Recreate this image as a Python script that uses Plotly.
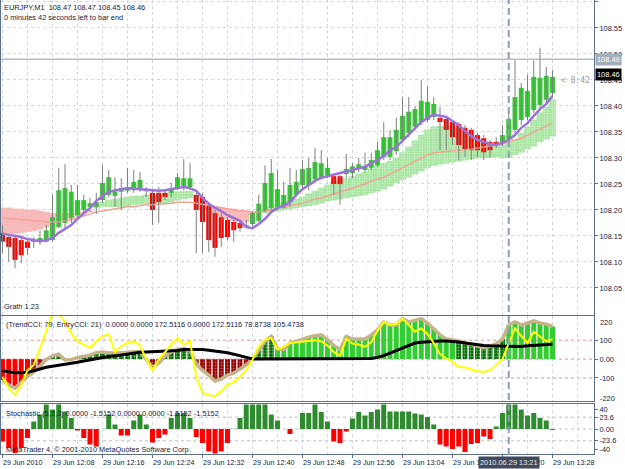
import plotly.graph_objects as go

# ---------------- data ----------------
symbol = "EURJPY,M1"
last_ohlc = [108.47, 108.47, 108.45, 108.46]
timer_text = "0 minutes 42 seconds left to bar end"
time_left = "< 0:42"
indicator_note = "Grath 1.23"
cci_header = "(TrendCCI: 79, EntryCCI: 21)  0.0000 0.0000 172.5116 0.0000 172.5116 78.8738 105.4738"
stoch_header = "Stochastic (5,3,3) 0.0000 -1.5152 0.0000 0.0000 -1.5152 -1.5152"
copyright_text = "MetaTrader 4, \u00a9 2001-2010 MetaQuotes Software Corp."

tick_bars = [0, 8, 16, 24, 32, 40, 48, 56, 64, 72, 80, 88]
tick_labels = ["29 Jun 2010", "29 Jun 12:08", "29 Jun 12:16", "29 Jun 12:24", "29 Jun 12:32",
               "29 Jun 12:40", "29 Jun 12:48", "29 Jun 12:56", "29 Jun 13:04", "29 Jun 13:12",
               "29 Jun 13:20", "29 Jun 13:28"]
cursor_bar = 81
cursor_price = 108.49
cursor_label = "2010.06.29 13:21"

price_ticks = [108.05, 108.10, 108.15, 108.20, 108.25, 108.30, 108.35, 108.40, 108.45, 108.50, 108.55, 108.60]
cci_ticks = [100, 0, -100]
cci_tick_text = ["100", "0.00", "-100"]
cci_edge_labels = [220, -220]
cci_levels = [100, 0, -100]
stoch_ticks = [40, 23.6, 0, -23.6, -40]
stoch_tick_text = ["40", "23.6", "0.00", "-23.6", "-40"]
stoch_levels = [23.6, 0, -23.6]

# Heiken Ashi bodies
ha_open = [108.156, 108.148, 108.146, 108.142, 108.139, 108.142, 108.139, 108.139, 108.142, 108.167,
           108.175, 108.185, 108.190, 108.200, 108.206, 108.206, 108.219, 108.229, 108.227, 108.235,
           108.237, 108.238, 108.240, 108.236, 108.233, 108.233, 108.233, 108.233, 108.242, 108.244,
           108.244, 108.229, 108.225, 108.210, 108.194, 108.186, 108.181, 108.177, 108.175, 108.167,
           108.173, 108.179, 108.198, 108.204, 108.206, 108.204, 108.215, 108.229, 108.248, 108.248,
           108.259, 108.263, 108.267, 108.265, 108.265, 108.269, 108.271, 108.281, 108.277, 108.281,
           108.286, 108.302, 108.302, 108.313, 108.335, 108.348, 108.360, 108.369, 108.373, 108.379,
           108.377, 108.375, 108.369, 108.365, 108.358, 108.354, 108.344, 108.338, 108.331, 108.331,
           108.327, 108.335, 108.354, 108.373, 108.379, 108.392, 108.402, 108.412, 108.425]
ha_close = [108.139, 108.129, 108.104, 108.113, 108.127, 108.139, 108.146, 108.161, 108.186, 108.238,
            108.242, 108.235, 108.219, 108.219, 108.213, 108.215, 108.252, 108.263, 108.235, 108.242,
            108.242, 108.254, 108.258, 108.240, 108.200, 108.215, 108.225, 108.242, 108.263, 108.261,
            108.261, 108.200, 108.177, 108.142, 108.127, 108.146, 108.148, 108.161, 108.165, 108.171,
            108.194, 108.212, 108.252, 108.271, 108.240, 108.229, 108.248, 108.254, 108.279, 108.281,
            108.292, 108.290, 108.281, 108.250, 108.250, 108.279, 108.284, 108.288, 108.283, 108.296,
            108.315, 108.340, 108.340, 108.354, 108.381, 108.389, 108.394, 108.410, 108.408, 108.404,
            108.369, 108.354, 108.340, 108.325, 108.317, 108.315, 108.315, 108.311, 108.315, 108.327,
            108.344, 108.375, 108.417, 108.435, 108.429, 108.456, 108.454, 108.458, 108.456]
# regular bars (grey high-low)
bar_high = [108.171, 108.152, 108.152, 108.148, 108.142, 108.148, 108.161, 108.171, 108.229, 108.281,
            108.288, 108.248, 108.248, 108.229, 108.223, 108.233, 108.286, 108.277, 108.263, 108.261,
            108.281, 108.277, 108.273, 108.244, 108.238, 108.244, 108.238, 108.252, 108.271, 108.298,
            108.290, 108.233, 108.233, 108.213, 108.200, 108.194, 108.186, 108.181, 108.179, 108.181,
            108.196, 108.229, 108.286, 108.298, 108.277, 108.254, 108.281, 108.277, 108.296, 108.300,
            108.319, 108.315, 108.300, 108.269, 108.267, 108.308, 108.290, 108.300, 108.310, 108.310,
            108.331, 108.369, 108.354, 108.377, 108.417, 108.417, 108.400, 108.450, 108.437, 108.417,
            108.398, 108.377, 108.373, 108.369, 108.363, 108.358, 108.348, 108.344, 108.335, 108.340,
            108.363, 108.392, 108.488, 108.444, 108.460, 108.488, 108.512, 108.475, 108.469]
bar_low = [108.117, 108.100, 108.088, 108.098, 108.113, 108.127, 108.133, 108.137, 108.139, 108.165,
           108.165, 108.175, 108.186, 108.192, 108.196, 108.192, 108.213, 108.225, 108.206, 108.200,
           108.233, 108.233, 108.235, 108.225, 108.171, 108.175, 108.219, 108.225, 108.238, 108.238,
           108.238, 108.117, 108.117, 108.119, 108.110, 108.129, 108.142, 108.139, 108.158, 108.167,
           108.169, 108.177, 108.196, 108.200, 108.200, 108.202, 108.206, 108.225, 108.238, 108.238,
           108.254, 108.258, 108.261, 108.229, 108.210, 108.261, 108.261, 108.273, 108.273, 108.277,
           108.283, 108.296, 108.296, 108.306, 108.329, 108.340, 108.354, 108.363, 108.369, 108.373,
           108.315, 108.315, 108.325, 108.296, 108.302, 108.296, 108.302, 108.296, 108.300, 108.319,
           108.323, 108.325, 108.348, 108.363, 108.373, 108.387, 108.392, 108.406, 108.419]
# purple moving average
ema_purple = [108.154, 108.152, 108.150, 108.148, 108.144, 108.142, 108.140, 108.142, 108.146, 108.156,
              108.163, 108.171, 108.183, 108.194, 108.204, 108.217, 108.227, 108.235, 108.238, 108.240,
              108.242, 108.241, 108.240, 108.238, 108.237, 108.237, 108.238, 108.240, 108.242, 108.244,
              108.242, 108.237, 108.223, 108.212, 108.204, 108.198, 108.190, 108.185, 108.179, 108.167,
              108.165, 108.173, 108.183, 108.196, 108.204, 108.208, 108.215, 108.229, 108.240, 108.248,
              108.256, 108.262, 108.265, 108.269, 108.272, 108.275, 108.277, 108.280, 108.283, 108.290,
              108.296, 108.304, 108.315, 108.321, 108.333, 108.346, 108.358, 108.369, 108.377, 108.383,
              108.381, 108.379, 108.371, 108.363, 108.352, 108.342, 108.335, 108.331, 108.327, 108.325,
              108.329, 108.335, 108.344, 108.358, 108.367, 108.381, 108.394, 108.404, 108.419]
# ribbon (histogram between fast and slow averages) and salmon middle line
ribbon_fast = [108.152, 108.152, 108.154, 108.156, 108.158, 108.160, 108.163, 108.167, 108.171, 108.175,
               108.179, 108.183, 108.188, 108.192, 108.196, 108.211, 108.215, 108.219, 108.221, 108.223,
               108.225, 108.227, 108.227, 108.229, 108.229, 108.229, 108.231, 108.233, 108.235, 108.236,
               108.236, 108.221, 108.210, 108.200, 108.192, 108.186, 108.183, 108.179, 108.177, 108.177,
               108.190, 108.198, 108.202, 108.206, 108.210, 108.213, 108.217, 108.221, 108.225, 108.231,
               108.236, 108.242, 108.248, 108.254, 108.258, 108.261, 108.265, 108.269, 108.273, 108.279,
               108.285, 108.290, 108.294, 108.300, 108.310, 108.321, 108.333, 108.344, 108.354, 108.360,
               108.361, 108.361, 108.360, 108.356, 108.350, 108.342, 108.335, 108.329, 108.325, 108.323,
               108.325, 108.329, 108.336, 108.348, 108.360, 108.373, 108.387, 108.398, 108.412]
ribbon_slow = [108.204, 108.204, 108.202, 108.202, 108.200, 108.200, 108.198, 108.196, 108.194, 108.194,
               108.194, 108.194, 108.194, 108.196, 108.198, 108.204, 108.206, 108.206, 108.206, 108.206,
               108.208, 108.210, 108.211, 108.211, 108.213, 108.213, 108.213, 108.215, 108.219, 108.221,
               108.223, 108.221, 108.213, 108.210, 108.206, 108.204, 108.202, 108.202, 108.200, 108.198,
               108.196, 108.194, 108.194, 108.196, 108.198, 108.200, 108.202, 108.204, 108.206, 108.208,
               108.210, 108.213, 108.217, 108.219, 108.221, 108.223, 108.225, 108.227, 108.229, 108.233,
               108.236, 108.240, 108.246, 108.252, 108.258, 108.263, 108.269, 108.275, 108.281, 108.285,
               108.288, 108.290, 108.292, 108.294, 108.296, 108.298, 108.300, 108.300, 108.302, 108.302,
               108.300, 108.302, 108.306, 108.311, 108.317, 108.323, 108.331, 108.336, 108.342]
ribbon_mid = [108.185, 108.183, 108.183, 108.181, 108.181, 108.179, 108.179, 108.177, 108.177, 108.177,
              108.179, 108.181, 108.185, 108.188, 108.192, 108.196, 108.198, 108.200, 108.202, 108.204,
              108.206, 108.206, 108.208, 108.210, 108.210, 108.211, 108.211, 108.213, 108.215, 108.215,
              108.215, 108.213, 108.211, 108.208, 108.206, 108.204, 108.202, 108.200, 108.198, 108.198,
              108.196, 108.196, 108.198, 108.200, 108.204, 108.206, 108.208, 108.211, 108.213, 108.217,
              108.221, 108.223, 108.227, 108.231, 108.235, 108.238, 108.242, 108.246, 108.250, 108.256,
              108.260, 108.263, 108.269, 108.275, 108.281, 108.288, 108.294, 108.300, 108.306, 108.310,
              108.311, 108.313, 108.313, 108.315, 108.315, 108.317, 108.319, 108.321, 108.323, 108.325,
              108.327, 108.331, 108.335, 108.338, 108.344, 108.350, 108.356, 108.361, 108.367]

# CCI window
trend_cci = [-111, -137, -154, -123, -94, -68, -38, -3, 17, 26,
             -4, -3, 9, 17, 21, 34, 38, 34, 31, 34,
             38, 39, 39, 0, -43, -21, 14, 38, 51, 55,
             48, -26, -60, -85, -116, -106, -85, -74, -55, -31,
             0, 51, 94, 120, 55, 51, 85, 94, 106, 116,
             123, 128, 103, 72, 51, 120, 106, 106, 106, 128,
             154, 197, 180, 180, 214, 197, 205, 214, 191, 162,
             128, 106, 103, 94, 85, 77, 68, 60, 68, 82,
             106, 180, 197, 180, 191, 202, 191, 185, 172.5116]
cci_state_runs = [("R", 5), ("r", 3), ("g", 2), ("r", 2), ("g", 11), ("r", 3), ("g", 5), ("r", 10),
                  ("g", 3), ("G", 29), ("g", 8), ("G", 8)]
entry_cci = [-94, -154, -191, -137, -60, -31, 55, 154, 240, 238,
             197, 137, 94, 77, 60, 94, 120, 133, 38, 68,
             85, 94, 72, 0, -60, -3, 38, 77, 111, 77,
             94, -94, -180, -191, -197, -171, -137, -123, -94, -60,
             -3, 65, 103, 111, 51, 65, 85, 89, 89, 94,
             99, 94, 72, 38, 17, 106, 82, 77, 65, 89,
             150, 197, 180, 185, 214, 180, 145, 162, 133, 85,
             26, 3, -14, -43, -43, -55, -65, -68, -60, -31,
             0, 85, 162, 123, 85, 145, 120, 94, 105.4738]
cci_ma = [-62, -68, -72, -72, -70, -62, -52, -43, -38, -33,
          -29, -24, -17, -10, -4, 4, 10, 14, 17, 22,
          28, 33, 36, 38, 39, 40, 41, 43, 46, 50,
          51, 51, 50, 47, 43, 38, 33, 26, 18, 9,
          0, 0, 0, 0, 0, 0, 0, 0, 0, 0,
          0, 0, 0, 0, 0, 0, 0, 0, 0, 3,
          9, 18, 32, 45, 58, 75, 85, 89, 92, 94,
          95, 95, 94, 90, 85, 80, 76, 72, 70, 69,
          68, 67, 66, 67, 70, 73, 75, 77, 78.8738]

# Stochastic histogram
stoch = [-25, -38, -48, -38, -18, 15, 29, 49, 39, 49,
         35, 22, -3, -18, -31, -35, 0, 29, 9, -13,
         -13, 17, 29, 9, -27, -18, -11, 22, 32, 32,
         22, -16, -28, -45, -49, -45, -28, 0.5, 22, 49,
         49, 49, 49, 29, 17, 0, -10, 0, 32, 32,
         49, 34, 15, -25, -28, -5, 21, 34, 27, 34,
         39, 49, 35, 35, 35, 35, 31, 29, 24, 9,
         -31, -35, -40, -35, -46, -30, -28, -15, -20, 5,
         32, 49, 49, 39, 27, 32, 22, 17, -1.5152]

# ---------------- geometry / style ----------------
W, H = 625, 469
FONT = "Liberation Sans, Arial, sans-serif"
TXT = "#14213D"
GRID = "#D2D7DD"
FRAME = "#5E7088"
X_LEFT, X_RIGHT = 1, 594
FIRST_PX, BAR_PX = 2.5, 6.25


def fx(px):
    return px / W


def fy(py):
    return 1 - py / H


n = len(ha_open)
bars = list(range(n))
xr = [(X_LEFT - FIRST_PX) / BAR_PX, (X_RIGHT - FIRST_PX) / BAR_PX]

cci_state = []
for s, c in cci_state_runs:
    cci_state += [s] * c

fig = go.Figure()

# ---- main window ----
up_b, up_h, dn_b, dn_h = [], [], [], []
for f, s in zip(ribbon_fast, ribbon_slow):
    if f >= s:
        up_b.append(s); up_h.append(f - s); dn_b.append(None); dn_h.append(None)
    else:
        dn_b.append(f); dn_h.append(s - f); up_b.append(None); up_h.append(None)

fig.add_trace(go.Bar(x=bars, y=dn_h, base=dn_b, width=1.0, xaxis="x", yaxis="y",
                     marker=dict(color="#F7B9B9", line=dict(width=0.6, color="#F7B9B9")),
                     hoverinfo="skip"))
fig.add_trace(go.Bar(x=bars, y=up_h, base=up_b, width=1.0, xaxis="x", yaxis="y",
                     marker=dict(color="#A2E39C", line=dict(width=0.6, color="#A2E39C"),
                                 pattern=dict(shape=".", fgcolor="#DDF7D9", bgcolor="#A2E39C",
                                              size=2.5, solidity=0.3, fillmode="replace")),
                     hoverinfo="skip"))
fig.add_trace(go.Scatter(x=bars, y=ribbon_mid, mode="lines", xaxis="x", yaxis="y",
                         line=dict(color="#F2A596", width=1.5), hoverinfo="skip"))

wx, wy = [], []
for i, h, l in zip(bars, bar_high, bar_low):
    wx += [i, i, None]
    wy += [l, h, None]
fig.add_trace(go.Scatter(x=wx, y=wy, mode="lines", xaxis="x", yaxis="y",
                         line=dict(color="#7F7F7F", width=1), hoverinfo="skip"))

body_base = [min(o, c) for o, c in zip(ha_open, ha_close)]
body_h = [max(abs(c - o), 0.0012) for o, c in zip(ha_open, ha_close)]
body_col = ["#33CC33" if c >= o else "#FF0000" for o, c in zip(ha_open, ha_close)]
fig.add_trace(go.Bar(x=bars, y=body_h, base=body_base, width=0.8, xaxis="x", yaxis="y",
                     marker=dict(color=body_col, line=dict(width=0)), hoverinfo="skip"))

fig.add_trace(go.Scatter(x=bars, y=ema_purple, mode="lines", xaxis="x", yaxis="y",
                         line=dict(color="#9B72D8", width=2.5), hoverinfo="skip"))

# ---- CCI window ----
state_style = {
    "R": dict(color="#FF0000"),
    "G": dict(color="#33CC33"),
    "r": dict(color="#8C0000", pattern=dict(shape=".", fgcolor="#D04848", bgcolor="#8C0000",
                                           size=3, solidity=0.35, fillmode="replace")),
    "g": dict(color="#0E640E", pattern=dict(shape=".", fgcolor="#52B852", bgcolor="#0E640E",
                                           size=3, solidity=0.35, fillmode="replace")),
}
for st, style in state_style.items():
    ys = [v if s == st else None for v, s in zip(trend_cci, cci_state)]
    fig.add_trace(go.Bar(x=bars, y=ys, width=0.8, xaxis="x2", yaxis="y2",
                         marker=dict(line=dict(width=0), **style), hoverinfo="skip"))
fig.add_trace(go.Scatter(x=bars, y=trend_cci, mode="lines", xaxis="x2", yaxis="y2",
                         line=dict(color="#C4B48A", width=3.5), hoverinfo="skip"))
fig.add_trace(go.Scatter(x=bars, y=cci_ma, mode="lines", xaxis="x2", yaxis="y2",
                         line=dict(color="#000000", width=3), hoverinfo="skip"))
fig.add_trace(go.Scatter(x=bars, y=entry_cci, mode="lines", xaxis="x2", yaxis="y2",
                         line=dict(color="#FFFF00", width=2), hoverinfo="skip"))

# ---- Stochastic window ----
fig.add_trace(go.Bar(x=bars, y=stoch, width=0.8, xaxis="x3", yaxis="y3",
                     marker=dict(color=["#2E8B2E" if v >= 0 else "#FF0000" for v in stoch],
                                 line=dict(width=0)), hoverinfo="skip"))

# ---------------- layout ----------------
tick_font = dict(family=FONT, size=7.4, color=TXT)
xcommon = dict(range=xr, domain=[fx(X_LEFT), fx(X_RIGHT)], showticklabels=False,
               showgrid=True, gridcolor=GRID, griddash="dot", gridwidth=1, tick0=0, dtick=4,
               zeroline=False, showline=True, linecolor=FRAME, linewidth=1, mirror=True,
               fixedrange=True)
ycommon = dict(side="right", ticks="outside", ticklen=3, tickcolor=FRAME, tickfont=tick_font,
               zeroline=False, showline=True, linecolor=FRAME, linewidth=1, mirror=True,
               fixedrange=True)

shapes = []
for lv in cci_levels:
    shapes.append(dict(type="line", xref="paper", x0=fx(X_LEFT), x1=fx(X_RIGHT), yref="y2",
                       y0=lv, y1=lv, line=dict(color="#F08A8A", width=1, dash="dot"), layer="below"))
for lv in stoch_levels:
    shapes.append(dict(type="line", xref="paper", x0=fx(X_LEFT), x1=fx(X_RIGHT), yref="y3",
                       y0=lv, y1=lv, line=dict(color="#B8BEC6", width=1, dash="dot"), layer="below"))
shapes.append(dict(type="line", xref="paper", x0=fx(X_LEFT), x1=fx(X_RIGHT), yref="y",
                   y0=cursor_price, y1=cursor_price, line=dict(color="#8C9DB2", width=1)))
shapes.append(dict(type="line", xref="x", x0=cursor_bar, x1=cursor_bar, yref="paper",
                   y0=fy(455), y1=1, line=dict(color="#8C9DB2", width=2, dash="7px,4px")))

ann = []


def text(x, y, s, size=7.4, color=TXT, xanchor="left", family=FONT, **kw):
    d = dict(x=x, y=y, text=s, showarrow=False, xanchor=xanchor, yanchor="middle",
             font=dict(family=family, size=size, color=color), borderpad=0)
    d.setdefault("xref", "paper")
    d.setdefault("yref", "paper")
    d.update(kw)
    ann.append(d)


header = symbol + "\u00a0\u00a0" + " ".join(f"{v:.2f}" for v in last_ohlc)
text(fx(3), fy(7.5), header)
text(fx(3), fy(17), timer_text)
text(fx(3), fy(306), indicator_note)
text(fx(5), fy(324.5), cci_header.replace("  ", "\u00a0\u00a0"))
text(fx(5), fy(413), stoch_header)
text(fx(5), fy(449), copyright_text)
for v, py in zip(cci_edge_labels, [322, 398]):
    text(fx(598.5), fy(py), str(v))
for b, lab in zip(tick_bars, tick_labels):
    text(b, fy(462), lab, size=7.2, xref="x3", xshift=-1)
# price tags
text(fx(595), cursor_price, f"{cursor_price:.2f}", color="#FFFFFF", yref="y",
     bgcolor="#A3AEBB", borderpad=1)
text(fx(595), last_ohlc[3], f"{last_ohlc[3]:.2f}", color="#FFFFFF", yref="y",
     bgcolor="#000000", borderpad=1)
text(fx(591), last_ohlc[3], time_left, size=8, color="#9A9A9A", xanchor="right", yref="y",
     yshift=-6, family="DejaVu Sans Mono, monospace")
text(cursor_bar, fy(462), cursor_label, size=7.4, color="#E2E7EE", xanchor="center", xref="x3",
     bgcolor="#3F4B5D", borderpad=1)

fig.update_layout(
    width=W, height=H, margin=dict(l=0, r=0, t=0, b=0), autosize=False,
    paper_bgcolor="#FFFFFF", plot_bgcolor="#FFFFFF", showlegend=False, barmode="overlay",
    xaxis=dict(anchor="y", ticks="", **xcommon),
    xaxis2=dict(anchor="y2", matches="x", ticks="", **xcommon),
    xaxis3=dict(anchor="y3", matches="x", **{**xcommon, "dtick": 8},
                ticks="outside", ticklen=3, tickcolor=FRAME,
                minor=dict(dtick=4, tick0=0, showgrid=True, gridcolor=GRID, griddash="dot", ticks="")),
    yaxis=dict(anchor="x", domain=[fy(315), fy(0)], range=[107.998, 108.6038],
               tickvals=price_ticks, tickformat=".2f", showgrid=True, gridcolor=GRID,
               griddash="dot", **ycommon),
    yaxis2=dict(anchor="x2", domain=[fy(401), fy(316)], range=[-222, 228],
                tickvals=cci_ticks, ticktext=cci_tick_text, showgrid=False, **ycommon),
    yaxis3=dict(anchor="x3", domain=[fy(454), fy(404)], range=[-50, 50],
                tickvals=stoch_ticks, ticktext=stoch_tick_text, showgrid=False, **ycommon),
    shapes=shapes, annotations=ann,
)

fig.write_html("out.html", config={"displayModeBar": False, "staticPlot": True})
